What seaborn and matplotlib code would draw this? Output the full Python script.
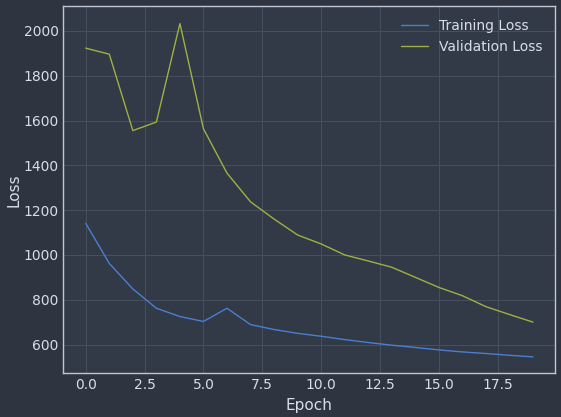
import matplotlib
matplotlib.use("Agg")
import matplotlib.pyplot as plt
import pandas as pd
import seaborn as sns

EPOCHS = list(range(20))
TRAIN_LOSS = [1141, 962, 848, 762, 725, 703, 762, 689, 667, 650,
              637, 622, 609, 597, 587, 576, 567, 560, 552, 545]
VAL_LOSS = [1923, 1896, 1555, 1593, 2033, 1563, 1365, 1237, 1160, 1089,
            1049, 1000, 973, 945, 900, 855, 818, 769, 734, 700]

BG = "#2e3440"
AX_BG = "#323a47"
FG = "#d8dee9"
GRID = "#46505f"


def main():
    sns.set_theme(style="darkgrid")
    plt.rcParams.update({
        "figure.facecolor": BG,
        "axes.facecolor": AX_BG,
        "axes.edgecolor": FG,
        "axes.labelcolor": FG,
        "text.color": FG,
        "xtick.color": FG,
        "ytick.color": FG,
        "grid.color": GRID,
        "grid.linewidth": 0.7,
        "axes.linewidth": 1.0,
        "font.family": ["DejaVu Sans"],
    })

    df = pd.DataFrame({
        "Epoch": EPOCHS * 2,
        "Loss": TRAIN_LOSS + VAL_LOSS,
        "Series": ["Training Loss"] * len(EPOCHS) + ["Validation Loss"] * len(EPOCHS),
    })

    fig, ax = plt.subplots(figsize=(5.61, 4.17), dpi=100)
    sns.lineplot(
        data=df, x="Epoch", y="Loss", hue="Series",
        palette=["#4a7fd0", "#9fb042"], linewidth=1.0, ax=ax,
    )
    ax.set_ylim(472, 2110)
    ax.set_xlim(-0.95, 19.95)
    ax.set_xlabel("Epoch", fontsize=11)
    ax.set_ylabel("Loss", fontsize=11, labelpad=1)
    ax.tick_params(labelsize=10, length=0)
    for s in ax.spines.values():
        s.set_visible(True)
        s.set_color("#c0c6d2")
    leg = ax.legend(frameon=False, fontsize=10, loc="upper right")
    for t in leg.get_texts():
        t.set_color(FG)

    fig.subplots_adjust(left=0.113, right=0.99, top=0.985, bottom=0.105)
    fig.savefig("out.png", dpi=100, facecolor=BG)
    plt.close(fig)


if __name__ == "__main__":
    main()
